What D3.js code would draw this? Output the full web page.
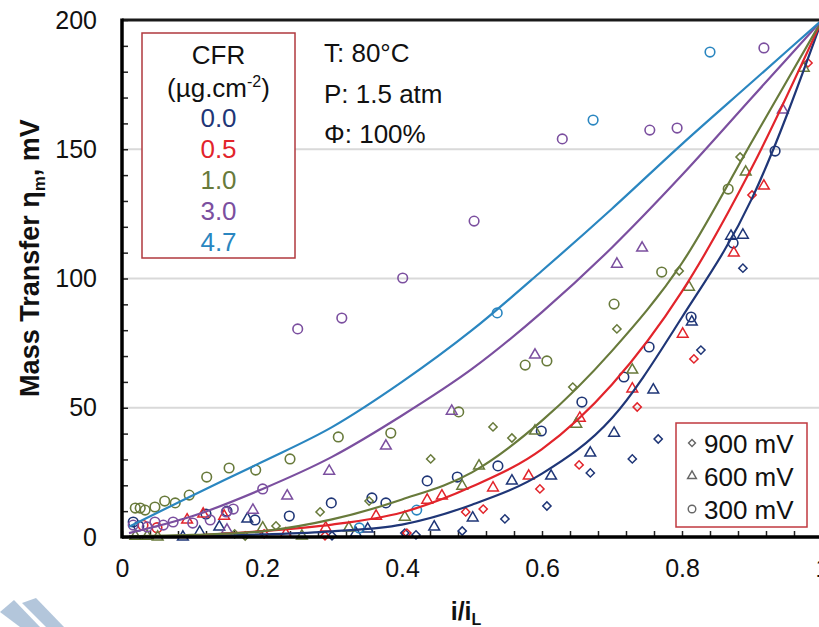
<!DOCTYPE html>
<html>
<head>
<meta charset="utf-8">
<script src="https://cdn.jsdelivr.net/npm/d3@7"></script>
<style>
  body { margin: 0; background: #fff; }
  svg { display: block; font-family: "Liberation Sans", Arial, sans-serif; }
</style>
</head>
<body>
<svg id="chart" width="819" height="627"></svg>
<script>
// fitted curves at these x positions
const fitX   = [0.01, 0.1, 0.2, 0.3, 0.4, 0.5, 0.6, 0.7, 0.8, 0.9, 1.0];
const fit00  = [0, 0.3, 1, 2.2, 4.8, 12.5, 24.5, 46, 85, 131, 200];
const fit05  = [0, 0.6, 2.3, 4.8, 9.5, 19.5, 34, 59, 95, 143, 200];
const fit10  = [0.3, 0.8, 2.2, 6.8, 14.5, 25, 45, 72, 106, 153, 200];
const fit30  = [1.5, 8, 18.5, 31, 47, 65, 87, 112, 140, 170, 200];
const fit47  = [4, 16, 29, 42.5, 60, 80, 103, 127, 152, 176, 200];

// measured points [i/iL, eta]
const cfr00_900 = [[.3,.5],[.404,1.5],[.42,.8],[.486,2.3],[.547,7],[.607,12],[.669,24.8],[.729,30.2],[.766,37.9],[.827,72.3],[.887,104]];
const cfr00_600 = [[.087,0],[.111,1.9],[.139,3.9],[.179,7],[.334,1.5],[.351,3.1],[.446,3.9],[.501,7.4],[.557,21.7],[.613,23.6],[.669,32.5],[.703,40.2],[.759,56.9],[.814,83.2],[.87,116.4],[.887,116.8]];
const cfr00_300 = [[.016,5.8],[.024,4.2],[.12,8.9],[.15,10],[.19,6.6],[.239,8.1],[.299,13.2],[.357,15.1],[.377,13.2],[.436,21.7],[.479,23.2],[.537,27.5],[.599,41],[.657,52.2],[.717,61.9],[.753,73.5],[.813,85.1],[.873,113.7],[.933,149.3]];

const cfr05_900 = [[.203,1.2],[.29,.5],[.407,1.5],[.491,9.7],[.516,10.8],[.597,18.6],[.653,27.9],[.736,50.3],[.817,68.9],[.9,132.3],[.98,183.4]];
const cfr05_600 = [[.093,6.6],[.116,8.9],[.146,8.1],[.234,1.2],[.291,3.5],[.363,8.1],[.436,14.3],[.457,15.9],[.53,19],[.581,23.6],[.654,46],[.729,57.3],[.801,78.5],[.874,109.9],[.917,135.8]];
const cfr05_300 = [[.03,4.5],[.05,3.6]];

const cfr10_900 = [[.161,1.2],[.176,.4],[.22,4.3],[.283,9.7],[.353,13.9],[.441,30.2],[.53,42.6],[.557,38.3],[.644,58],[.707,80.5],[.796,102.9],[.883,147]];
const cfr10_600 = [[.019,.3],[.036,.3],[.051,0],[.201,3.5],[.257,.4],[.324,3.5],[.404,7.7],[.486,19.7],[.51,27.5],[.59,41],[.649,43.7],[.729,64.6],[.81,96.7],[.891,141.2],[.974,181.4]];
const cfr10_300 = [[.019,11.2],[.026,11.2],[.033,10.4],[.047,11.6],[.061,13.9],[.076,13.2],[.096,16.2],[.121,23.2],[.153,26.7],[.191,25.9],[.24,30.2],[.309,38.7],[.384,40.2],[.481,48.4],[.576,66.5],[.607,68.1],[.703,90.1],[.771,102.5],[.866,134.6]];

const cfr30_600 = [[.15,2.7],[.187,10.4],[.236,15.9],[.296,25.5],[.377,35.2],[.471,48.7],[.59,70.4],[.707,105.6],[.743,111.8],[.944,165.2]];
const cfr30_300 = [[.016,4.6],[.036,3.9],[.047,5.8],[.059,4.6],[.073,5.8],[.101,5.4],[.126,6.6],[.149,9.7],[.159,10.8],[.201,18.6],[.251,80.5],[.314,84.7],[.401,100.2],[.503,122.2],[.629,154],[.754,157.4],[.793,158.2],[.917,189.2]];

const cfr47_300 = [[.339,3.5],[.421,10.4],[.536,86.7],[.673,161.3],[.84,187.6]];

const cfrLabels = ["0.0", "0.5", "1.0", "3.0", "4.7"];
const cfrColors = ["#1f3677", "#e2242b", "#687a3b", "#7b4f9f", "#2a86c0"];
const voltLabels = ["900 mV", "600 mV", "300 mV"];

const svg = d3.select("#chart");
const pLeft = 122, pRight = 822, pTop = 20, pBottom = 537;

const x = d3.scaleLinear().domain([0, 1]).range([pLeft, pRight]);
const y = d3.scaleLinear().domain([0, 200]).range([pBottom, pTop]);

// watermark bits in the corner
svg.append("polygon").attr("points", "0,612 14,600 40,627 20,627").attr("fill", "#b3c6db");
svg.append("polygon").attr("points", "22,603 36,598 64,627 46,627").attr("fill", "#b3c6db");

// gridlines
svg.selectAll(".grid").data([50, 100, 150]).enter().append("line")
  .attr("x1", pLeft).attr("x2", pRight)
  .attr("y1", d => y(d)).attr("y2", d => y(d))
  .attr("stroke", "#d9d9d9").attr("stroke-width", 2);

// axis labels
const yAx = svg.append("g").attr("transform", `translate(${pLeft},0)`)
  .call(d3.axisLeft(y).tickValues([0, 50, 100, 150, 200]).tickSize(0).tickPadding(25));
const xAx = svg.append("g").attr("transform", `translate(0,${pBottom})`)
  .call(d3.axisBottom(x).tickValues([0, .2, .4, .6, .8, 1]).tickSize(0).tickPadding(22)
    .tickFormat(d => d === 0 ? "0" : d === 1 ? "1" : d.toFixed(1)));
[yAx, xAx].forEach(g => {
  g.select(".domain").remove();
  g.selectAll("text").attr("font-size", 25).attr("fill", "#111")
    .attr("font-family", '"Liberation Sans", Arial, sans-serif');
});

// inner minor ticks
const yTk = svg.append("g").attr("transform", `translate(${pLeft},0)`)
  .call(d3.axisRight(y).tickValues(d3.range(0, 201, 10)).tickSize(6).tickFormat(""));
const xTk = svg.append("g").attr("transform", `translate(0,${pBottom})`)
  .call(d3.axisTop(x).tickValues(d3.range(0, 1.001, 0.04)).tickSize(6).tickFormat(""));
[yTk, xTk].forEach(g => {
  g.select(".domain").remove();
  g.selectAll("line").attr("stroke", "#222").attr("stroke-width", 1.5);
});

// markers
const triangle = d3.symbol().type(d3.symbolTriangle).size(50);
const diamond = d3.symbol().type(d3.symbolSquare).size(34);

function drawSet(pts, shape, color) {
  const g = svg.append("g");
  if (shape === "circle") {
    g.selectAll("circle").data(pts).enter().append("circle")
      .attr("cx", d => x(d[0])).attr("cy", d => y(d[1])).attr("r", 4.8)
      .attr("fill", "none").attr("stroke", color).attr("stroke-width", 1.6);
  } else {
    g.selectAll("path").data(pts).enter().append("path")
      .attr("d", shape === "tri" ? triangle : diamond)
      .attr("transform", d => `translate(${x(d[0])},${y(d[1])})` + (shape === "dia" ? " rotate(45)" : ""))
      .attr("fill", "none").attr("stroke", color).attr("stroke-width", 1.5);
  }
}

drawSet(cfr00_900, "dia", cfrColors[0]);
drawSet(cfr00_600, "tri", cfrColors[0]);
drawSet(cfr00_300, "circle", cfrColors[0]);
drawSet(cfr05_900, "dia", cfrColors[1]);
drawSet(cfr05_600, "tri", cfrColors[1]);
drawSet(cfr05_300, "circle", cfrColors[1]);
drawSet(cfr10_900, "dia", cfrColors[2]);
drawSet(cfr10_600, "tri", cfrColors[2]);
drawSet(cfr10_300, "circle", cfrColors[2]);
drawSet(cfr30_600, "tri", cfrColors[3]);
drawSet(cfr30_300, "circle", cfrColors[3]);
drawSet(cfr47_300, "circle", cfrColors[4]);

// fitted curves
const line = d3.line().x(d => x(d[0])).y(d => y(d[1])).curve(d3.curveMonotoneX);
[fit00, fit05, fit10, fit30, fit47].forEach((vals, i) => {
  svg.append("path")
    .datum(fitX.map((v, k) => [v, vals[k]]))
    .attr("d", line)
    .attr("fill", "none").attr("stroke", cfrColors[i]).attr("stroke-width", 2.2);
});

// frame
svg.append("line").attr("x1", pLeft).attr("x2", pRight).attr("y1", pTop).attr("y2", pTop)
  .attr("stroke", "#1a1a1a").attr("stroke-width", 3);
svg.append("line").attr("x1", pLeft).attr("x2", pLeft).attr("y1", pTop - 1.5).attr("y2", pBottom + 1.5)
  .attr("stroke", "#000").attr("stroke-width", 3.5);
svg.append("line").attr("x1", pLeft).attr("x2", pRight).attr("y1", pBottom).attr("y2", pBottom)
  .attr("stroke", "#000").attr("stroke-width", 3.5);

// CFR legend
const lg = svg.append("g");
lg.append("rect").attr("x", 142).attr("y", 33).attr("width", 153).attr("height", 225)
  .attr("fill", "#fff").attr("stroke", "#b0393e").attr("stroke-width", 1.5);
lg.append("text").attr("x", 218.5).attr("y", 64).attr("text-anchor", "middle")
  .attr("font-size", 26).attr("fill", "#111").text("CFR");
const unit = lg.append("text").attr("x", 218.5).attr("y", 97).attr("text-anchor", "middle")
  .attr("font-size", 26).attr("fill", "#111");
unit.append("tspan").text("(µg.cm");
unit.append("tspan").attr("font-size", 16).attr("dy", -10).text("-2");
unit.append("tspan").attr("dy", 10).text(")");
lg.selectAll(".cfr").data(cfrLabels).enter().append("text")
  .attr("x", 218.5).attr("y", (d, i) => 127 + i * 31)
  .attr("text-anchor", "middle").attr("font-size", 26)
  .attr("fill", (d, i) => cfrColors[i]).text(d => d);

// conditions
const cond = ["T: 80°C", "P: 1.5 atm", "Φ: 100%"];
svg.selectAll(".cond").data(cond).enter().append("text")
  .attr("x", 324).attr("y", (d, i) => 62 + i * 40.5)
  .attr("font-size", 26).attr("fill", "#111").text(d => d);

// voltage legend
const vg = svg.append("g");
vg.append("rect").attr("x", 676).attr("y", 423).attr("width", 131).attr("height", 104)
  .attr("fill", "#fff").attr("stroke", "#c0393f").attr("stroke-width", 1.5);
const vShapes = ["dia", "tri", "circle"];
voltLabels.forEach((t, i) => {
  const cy = 443 + i * 33;
  if (vShapes[i] === "circle") {
    vg.append("circle").attr("cx", 692).attr("cy", cy).attr("r", 3.8)
      .attr("fill", "none").attr("stroke", "#666").attr("stroke-width", 1.4);
  } else {
    vg.append("path").attr("d", vShapes[i] === "tri" ? d3.symbol().type(d3.symbolTriangle).size(34) : d3.symbol().type(d3.symbolSquare).size(24))
      .attr("transform", `translate(692,${cy})` + (vShapes[i] === "dia" ? " rotate(45)" : ""))
      .attr("fill", "none").attr("stroke", "#666").attr("stroke-width", 1.4);
  }
  vg.append("text").attr("x", 704).attr("y", cy + 9.5)
    .attr("font-size", 26).attr("fill", "#111").text(t);
});

// axis titles
const yt = svg.append("text").attr("transform", "translate(39,258) rotate(-90)")
  .attr("text-anchor", "middle").attr("font-size", 27).attr("font-weight", "bold").attr("fill", "#111");
yt.append("tspan").text("Mass Transfer η");
yt.append("tspan").attr("font-size", 17).attr("dy", 6).text("m");
yt.append("tspan").attr("dy", -6).text(", mV");

const xt = svg.append("text").attr("x", 466).attr("y", 620)
  .attr("text-anchor", "middle").attr("font-size", 25).attr("font-weight", "bold").attr("fill", "#111");
xt.append("tspan").text("i/i");
xt.append("tspan").attr("font-size", 16).attr("dy", 5).text("L");
</script>
</body>
</html>
